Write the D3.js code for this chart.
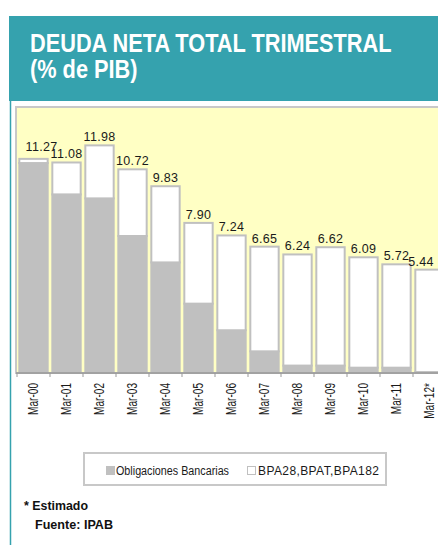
<!DOCTYPE html>
<html>
<head>
<meta charset="utf-8">
<script src="https://cdn.jsdelivr.net/npm/d3@7"></script>
<style>
  body { margin: 0; background: #fff; }
  svg { display: block; }
</style>
</head>
<body>
<div id="chart"></div>
<script>
// DATOS
var periods = ["Mar-00", "Mar-01", "Mar-02", "Mar-03", "Mar-04", "Mar-05", "Mar-06",
               "Mar-07", "Mar-08", "Mar-09", "Mar-10", "Mar-11", "Mar-12*"];
var obligaciones = [11.05, 9.40, 9.19, 7.21, 5.82, 3.65, 2.25, 1.14, 0.39, 0.39, 0.28, 0.28, 0.05];
var bpa = [0.22, 1.68, 2.79, 3.51, 4.01, 4.25, 4.99, 5.51, 5.85, 6.23, 5.81, 5.44, 5.39];
var seriesNames = ["Obligaciones Bancarias", "BPA28,BPAT,BPA182"];

//DIMENSIONES
var width = 438;
var height = 545;
var plotLeft = 16, plotTop = 107, baseY = 373;
var teal = '#35a2ae';
var yellow = '#ffffc4';
var barGray = '#c0c0c0';
var sans = '"Liberation Sans", Arial, sans-serif';

var rows = periods.map(function (p, i) {
  return { period: p, oblig: obligaciones[i], bpa: bpa[i] };
});

var svg = d3.select('#chart')
  .append('svg')
  .attr('width', width)
  .attr('height', height);

// banner
svg.append('rect')
  .attr('x', 9).attr('y', 16)
  .attr('width', width - 9).attr('height', 85)
  .attr('fill', teal);

svg.append('line')
  .attr('x1', 10.5).attr('x2', 10.5)
  .attr('y1', 101).attr('y2', height)
  .attr('stroke', teal)
  .attr('stroke-width', 1.5);

// no hay fuente "narrow": se comprime horizontalmente
var title = svg.append('g')
  .attr('transform', 'translate(30,0) scale(0.87,1)')
  .attr('font-family', sans)
  .attr('font-weight', 'bold')
  .attr('font-size', 25)
  .attr('fill', '#fff');
title.append('text').attr('x', 0).attr('y', 52)
  .text('DEUDA NETA TOTAL TRIMESTRAL');
title.append('text').attr('x', 0).attr('y', 78)
  .text('(% de PIB)');

var x = d3.scaleBand()
  .domain(periods)
  .range([17, 17 + 33 * periods.length])
  .paddingInner(0.08)
  .paddingOuter(0.04);

var y = d3.scaleLinear()
  .domain([0, 14])
  .range([baseY, plotTop]);

// area de grafico
svg.append('rect')
  .attr('x', plotLeft)
  .attr('y', plotTop)
  .attr('width', width - plotLeft + 5)
  .attr('height', baseY - plotTop)
  .attr('fill', yellow)
  .attr('stroke', '#c8c8c8')
  .attr('stroke-width', 2);

var stack = d3.stack().keys(['oblig', 'bpa'])(rows);

var layers = svg.selectAll('g.layer')
  .data(stack)
  .enter()
  .append('g')
  .attr('class', 'layer');

layers.selectAll('rect')
  .data(function (d) { return d.map(function (v) { return { v: v, key: d.key }; }); })
  .enter()
  .append('rect')
  .attr('x', function (d) { return x(d.v.data.period) + 1; })
  .attr('width', x.bandwidth() - 2)
  .attr('y', function (d) { return y(d.v[1]); })
  .attr('height', function (d) { return Math.max(0, y(d.v[0]) - y(d.v[1])); })
  .attr('fill', function (d) { return d.key == 'oblig' ? barGray : '#fff'; })
  .attr('stroke', barGray)
  .attr('stroke-width', 2);

// etiquetas de totales
svg.selectAll('text.total')
  .data(rows)
  .enter()
  .append('text')
  .attr('class', 'total')
  .attr('x', function (d, i) {
    var cx = x(d.period) + x.bandwidth() / 2 + (i == 0 ? 8 : 0);
    return Math.min(cx, width - 17);
  })
  .attr('y', function (d, i) { return y(d.oblig + d.bpa) - (i == 0 ? 8 : 4); })
  .attr('text-anchor', 'middle')
  .attr('font-family', sans)
  .attr('font-size', 12.5)
  .attr('letter-spacing', 0.3)
  .attr('fill', '#1a1a1a')
  .text(function (d) { return (d.oblig + d.bpa).toFixed(2); });

// eje
svg.append('line')
  .attr('x1', plotLeft).attr('x2', width)
  .attr('y1', baseY).attr('y2', baseY)
  .attr('stroke', '#999')
  .attr('stroke-width', 1.5);

var half = x.step() * x.paddingInner() / 2;
svg.selectAll('line.tick')
  .data(periods)
  .enter()
  .append('line')
  .attr('class', 'tick')
  .attr('x1', function (d) { return x(d) - half; })
  .attr('x2', function (d) { return x(d) - half; })
  .attr('y1', baseY).attr('y2', baseY + 4)
  .attr('stroke', '#999');

svg.selectAll('text.cat')
  .data(periods)
  .enter()
  .append('text')
  .attr('class', 'cat')
  .attr('transform', function (d) {
    return 'translate(' + (x(d) + x.bandwidth() / 2 + 4.5) + ',' + (baseY + 10) + ') rotate(-90) scale(0.72,1)';
  })
  .attr('text-anchor', 'end')
  .attr('font-family', sans)
  .attr('font-size', 14)
  .attr('fill', '#1a1a1a')
  .text(function (d) { return d; });

// leyenda
var legend = svg.append('g');
legend.append('rect')
  .attr('x', 84).attr('y', 453)
  .attr('width', 302).attr('height', 32)
  .attr('fill', '#fff')
  .attr('stroke', '#c8c8c8')
  .attr('stroke-width', 2);
legend.append('rect')
  .attr('x', 106).attr('y', 466).attr('width', 9).attr('height', 9)
  .attr('fill', barGray);
legend.append('text')
  .attr('x', 116).attr('y', 475)
  .attr('font-family', sans)
  .attr('font-size', 12.5)
  .attr('textLength', 113).attr('lengthAdjust', 'spacingAndGlyphs')
  .attr('fill', '#1a1a1a')
  .text(seriesNames[0]);
legend.append('rect')
  .attr('x', 247.5).attr('y', 466.5).attr('width', 8).attr('height', 8)
  .attr('fill', '#fff')
  .attr('stroke', barGray);
legend.append('text')
  .attr('x', 258).attr('y', 475)
  .attr('font-family', sans)
  .attr('font-size', 12)
  .attr('letter-spacing', 0.4)
  .attr('fill', '#1a1a1a')
  .text(seriesNames[1]);

// notas
var notes = svg.append('g')
  .attr('font-family', sans)
  .attr('font-weight', 'bold')
  .attr('font-size', 13)
  .attr('fill', '#111');
notes.append('text').attr('x', 24).attr('y', 510)
  .attr('textLength', 64).attr('lengthAdjust', 'spacingAndGlyphs')
  .text('* Estimado');
notes.append('text').attr('x', 35).attr('y', 529)
  .attr('textLength', 78).attr('lengthAdjust', 'spacingAndGlyphs')
  .text('Fuente: IPAB');
</script>
</body>
</html>
